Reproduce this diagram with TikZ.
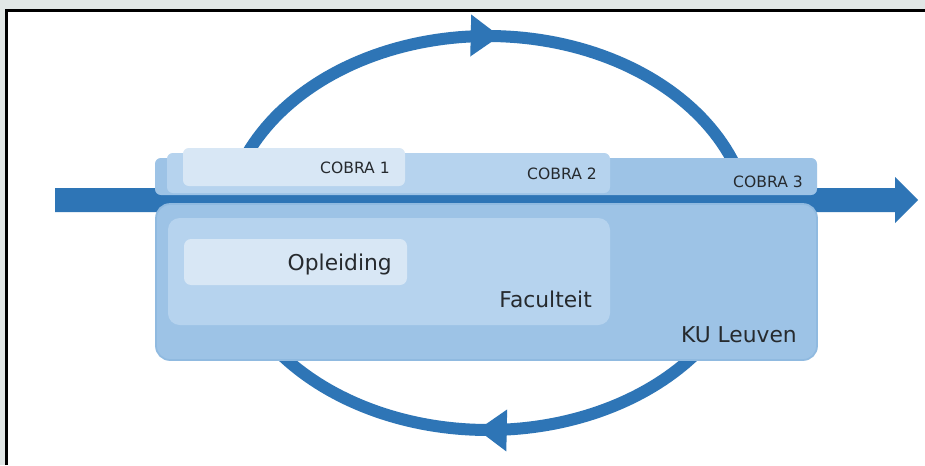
\documentclass[tikz,border=0pt]{standalone}
\usepackage{fontspec}
\setmainfont{DejaVu Sans}
\definecolor{BleuFleche}{HTML}{2E75B6}
\definecolor{BleuKU}{HTML}{9DC3E6}
\definecolor{BleuFac}{HTML}{B6D3EE}
\definecolor{BleuOpl}{HTML}{D8E7F5}
\definecolor{GrisCadre}{HTML}{E1E7E6}
\definecolor{GrisTexte}{HTML}{262A2E}
\usetikzlibrary{decorations.markings}

\begin{document}
\begin{tikzpicture}[x=0.03cm, y=-0.03cm,
	lbl/.style={inner sep=0pt, anchor=base east, text=GrisTexte, font=\fontsize{18.6}{20}\selectfont},
	tablbl/.style={lbl, font=\fontsize{13.3}{15}\selectfont},
	rondje/.style={BleuFleche, line width=0.36cm, postaction=decorate,
		decoration={markings, mark=at position #1 with {\fill[BleuFleche] (0,0) -- (-0.87cm,0.63cm) -- (-0.87cm,-0.63cm) -- cycle;}}},
	laag/.style={rounded corners=#1}]
	\useasboundingbox (0,0) rectangle (925,465);
	%Cadre
	\fill[GrisCadre] (0,0) rectangle (925,465);
	\fill[white] (6,10) rectangle (925,465);
	\draw[black, line width=0.09cm] (6.5,465) -- (6.5,10.5) -- (925,10.5);
	%
	%Cyclus
	\draw[rondje=0.52] plot[domain=160:20, samples=80] ({488+263*cos(\x)}, {233-197*sin(\x)});
	\draw[rondje=0.52] plot[domain=-30:-150, samples=80] ({488+263*cos(\x)}, {233-197*sin(\x)});
	%
	%Tijdlijn
	\fill[BleuFleche] (55,188) -- (895,188) -- (895,177) -- (918,200) -- (895,223) -- (895,212) -- (55,212) -- cycle;
	%
	%COBRA
	\fill[BleuKU, laag=5] (155,158) rectangle (817,195);
	\fill[BleuFac, laag=5] (167,153) rectangle (610,193);
	\fill[BleuOpl, laag=5] (183,148) rectangle (405,186);
	\node[tablbl] (cobraA) at (390,173) {COBRA 1};
	\node[tablbl] (cobraB) at (597,179) {COBRA 2};
	\node[tablbl] (cobraC) at (803,187) {COBRA 3};
	%
	%Niveaus
	\filldraw[fill=BleuKU, draw=BleuKU!88!BleuFleche, line width=1.5pt, laag=12] (156,204) rectangle (817,360);
	\fill[BleuFac, laag=10] (168,218) rectangle (610,325);
	\fill[BleuOpl, laag=6] (184,239) rectangle (407,285);
	\node[lbl] (opl) at (392,270) {Opleiding};
	\node[lbl] (fac) at (592,307) {Faculteit};
	\node[lbl] (ku) at (797,342) {KU Leuven};
\end{tikzpicture}
\end{document}
